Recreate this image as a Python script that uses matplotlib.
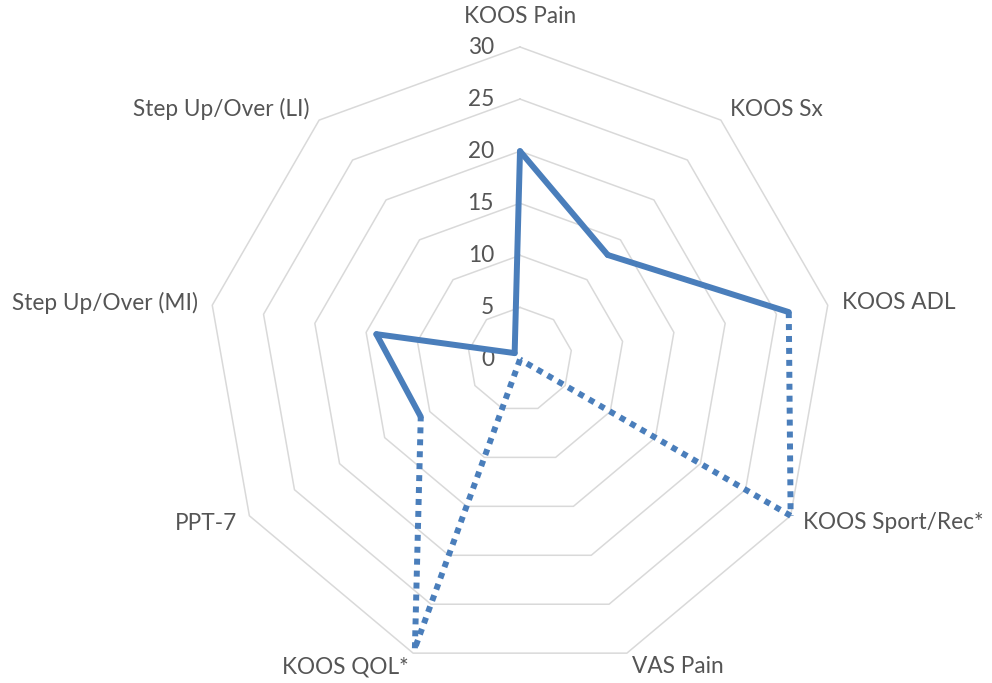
import numpy as np
import matplotlib
matplotlib.use("Agg")
import matplotlib.pyplot as plt

categories = ["KOOS Pain", "KOOS Sx", "KOOS ADL", "KOOS Sport/Rec*", "VAS Pain",
              "KOOS QOL*", "PPT-7", "Step Up/Over (MI)", "Step Up/Over (LI)"]
values = [20.0, 13.1, 26.2, 30.0, 0.0, 29.5, 11.0, 14.0, 0.8]
# segment arriving at each point drawn dotted?
dotted_into = [False, False, False, True, True, True, True, False, False]
ring_values = [0, 5, 10, 15, 20, 25, 30]
tick_labels = ["0", "5", "10", "15", "20", "25", "30"]

W, H = 992, 683
PX = 312.5 / 30.0          # pixels per unit
CX, CY = 520.0, 359.5      # centre in pixels (from top-left)

fig = plt.figure(figsize=(W / 100, H / 100), dpi=100)
ax = fig.add_axes([0, 0, 1, 1])
ax.set_xlim(-CX / PX, (W - CX) / PX)
ax.set_ylim(-(H - CY) / PX, CY / PX)
ax.axis("off")

plt.rcParams['font.family'] = ['Lato', 'DejaVu Sans']
TXT = "#555555"
BLUE = "#4A7EBB"
FS = 16.3
n = len(categories)
ang = np.arange(n) * 2 * np.pi / n  # clockwise from top

def xy(r, a):
    return r * np.sin(a), r * np.cos(a)

# grid rings
for rv in ring_values[1:]:
    a = np.append(ang, ang[0])
    x, y = xy(rv, a)
    ax.plot(x, y, color="#D9D9D9", lw=1.1, zorder=1)

# tick labels
for rv, lab in zip(ring_values, tick_labels):
    ax.text(-26 / PX, rv, lab, ha="right", va="center", fontsize=FS, color=TXT)

# category labels
rl = 327 / PX
for c, a in zip(categories, ang):
    s = np.sin(a)
    if abs(s) < 1e-6:
        x, y = xy(rl + 16 / PX, a)
        ax.text(x, y, c, ha="center", va="center", fontsize=FS, color=TXT)
    else:
        x, y = xy(rl, a)
        ha = "left" if s > 0 else "right"
        ax.text(x, y, c, ha=ha, va="center", fontsize=FS, color=TXT)

# data line
px, py = xy(np.array(values), ang)
for i in range(n):
    j = (i - 1) % n
    xs = [px[j], px[i]]
    ys = [py[j], py[i]]
    if dotted_into[i]:
        ax.plot(xs, ys, color=BLUE, lw=4.3, linestyle=(0, (1.0, 1.0)),
                dash_capstyle="butt", zorder=3)
    else:
        ax.plot(xs, ys, color=BLUE, lw=4.3, solid_capstyle="round", zorder=4)

fig.savefig("out.png", dpi=100, facecolor="white")
